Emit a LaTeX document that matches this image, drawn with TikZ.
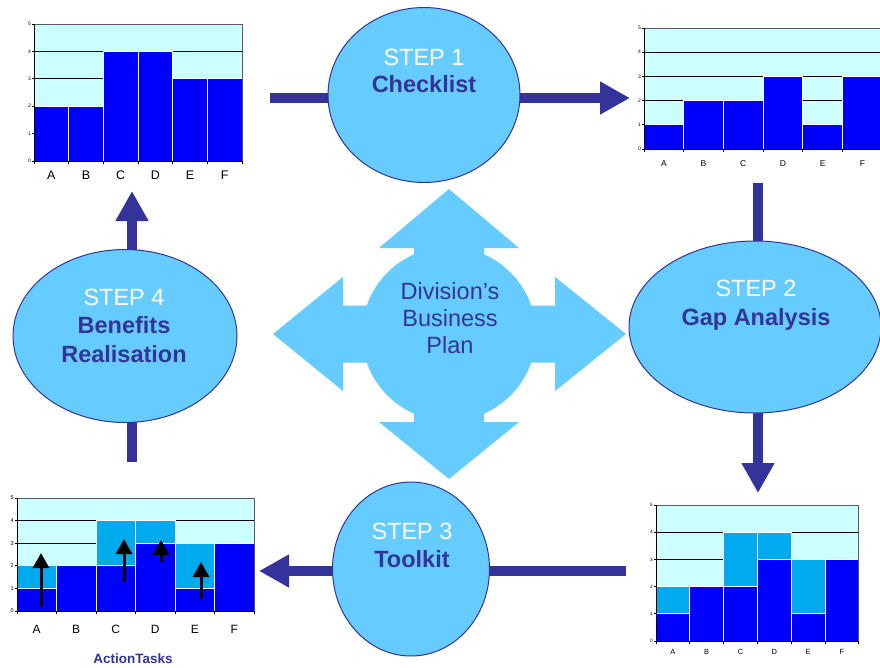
\documentclass[tikz,border=0pt]{standalone}
\usepackage{fontspec}
\setmainfont{Liberation Sans}
\usetikzlibrary{arrows.meta,shapes.geometric}
\definecolor{navy}{HTML}{333399}
\definecolor{skyfill}{HTML}{66CCFF}
\definecolor{chartbg}{HTML}{CCFFFF}
\definecolor{barblue}{HTML}{0000FF}
\definecolor{barlight}{HTML}{00AAEE}
\tikzset{
  gridline/.style={black,line width=0.9pt},
  frameline/.style={gray!70!black,line width=0.8pt},
  axisline/.style={black,line width=0.9pt},
  barstyle/.style={fill=barblue,draw=white,line width=1pt},
  lightbarstyle/.style={fill=barlight,draw=white,line width=1pt},
  stepell/.style={ellipse,draw=navy,line width=1pt,fill=skyfill,inner sep=0pt},
  steplabel/.style={text=white,font=\fontsize{23.5}{27}\selectfont,anchor=base,inner sep=0pt},
  steptitle/.style={text=navy,font=\fontsize{23.5}{27}\selectfont\bfseries,anchor=base,inner sep=0pt},
  hubtext/.style={text=navy,font=\fontsize{23.5}{27}\selectfont,anchor=base,inner sep=0pt},
  flowline/.style={navy,line width=10pt},
  flowarrow/.style={navy,line width=10pt,-{Triangle[length=30pt,width=31pt]}},
  risearrow/.style={black,line width=3pt,-{Triangle[length=15pt,width=16pt]}},
}
\newcommand\chartback[4]{%
  \fill[chartbg] (#1,#2) rectangle (#1+6*#3,#2-5*#4);
  \foreach \k in {1,2,3,4}{\draw[gridline] (#1,#2-\k*#4) -- (#1+6*#3,#2-\k*#4);}
}
\newcommand\chartbars[5]{%
  \foreach \i/\v in {#5}{\draw[barstyle] (#1+\i*#3,#2) rectangle (#1+\i*#3+#3,#2-\v*#4);}
}
\newcommand\chartlight[5]{%
  \foreach \i/\a/\b in {#5}{\draw[lightbarstyle] (#1+\i*#3,#2-\a*#4) rectangle (#1+\i*#3+#3,#2-\b*#4);}
}
\newcommand\chartfront[8]{%
  \draw[frameline] (#1,#2-5*#4) -- (#1+6*#3,#2-5*#4) -- (#1+6*#3,#2);
  \draw[axisline] (#1,#2-5*#4) -- (#1,#2) -- (#1+6*#3,#2);
  \foreach \k in {0,...,5}{%
    \draw[axisline] (#1,#2-\k*#4) -- ++(-2,0);
    \node[font=\fontsize{#6}{#6}\selectfont,anchor=east,inner sep=0pt] (#8y\k) at (#1-3,#2-\k*#4) {\k};}
  \foreach \i in {0,...,6}{\draw[axisline] (#1+\i*#3,#2) -- ++(0,3);}
  \foreach \i/\c in {0/A,1/B,2/C,3/D,4/E,5/F}{%
    \node[font=\fontsize{#5}{#5}\selectfont,inner sep=0pt] (#8x\i) at (#1+\i*#3+0.5*#3,#2+#7) {\c};}
}
\begin{document}
\begin{tikzpicture}[x=1pt,y=-1pt]
\useasboundingbox[fill=white] (0,0) rectangle (880,667);

% ---- charts ----
% chart 1 (top left)
\chartback{34}{161}{34.67}{27.4}
\chartbars{34}{161}{34.67}{27.4}{0/2,1/2,2/4,3/4,4/3,5/3}
\chartfront{34}{161}{34.67}{27.4}{12.5}{5}{14.5}{ca}
% chart 2 (top right)
\chartback{644}{149}{39.7}{24.2}
\chartbars{644}{149}{39.7}{24.2}{0/1,1/2,2/2,3/3,4/1,5/3}
\chartfront{644}{149}{39.7}{24.2}{8.5}{5}{15}{cb}
% chart 3 (bottom left)
\chartback{17}{611}{39.5}{22.6}
\chartbars{17}{611}{39.5}{22.6}{0/1,1/2,2/2,3/3,4/1,5/3}
\chartlight{17}{611}{39.5}{22.6}{0/1/2,2/2/4,3/3/4,4/1/3}
\chartfront{17}{611}{39.5}{22.6}{12}{5.5}{18}{cc}
% chart 4 (bottom right)
\chartback{656}{641}{33.8}{27.2}
\chartbars{656}{641}{33.8}{27.2}{0/1,1/2,2/2,3/3,4/1,5/3}
\chartlight{656}{641}{33.8}{27.2}{0/1/2,2/2/4,3/3/4,4/1/3}
\chartfront{656}{641}{33.8}{27.2}{7.5}{4.7}{11}{cd}

% rise arrows in chart 3
\coordinate (ra0) at (41,607); \coordinate (ra1) at (41,553);
\coordinate (rc0) at (124,582); \coordinate (rc1) at (124,539);
\coordinate (rd0) at (161,562); \coordinate (rd1) at (161,540);
\coordinate (re0) at (201,599); \coordinate (re1) at (201,562);
\draw[risearrow] (ra0) -- (ra1);
\draw[risearrow] (rc0) -- (rc1);
\draw[risearrow] (rd0) -- (rd1);
\draw[risearrow] (re0) -- (re1);
\node[text=navy,font=\fontsize{13.5}{15}\selectfont\bfseries,anchor=base,inner sep=0pt] (actiontasks) at (133,663.5) {ActionTasks};

% ---- central hub ----
\fill[skyfill]
  (414,262) -- (414,248) -- (379,248) -- (449,189) -- (519,248) -- (484,248) -- (484,262) -- cycle
  (414,406) -- (414,422) -- (379,422) -- (449,479) -- (519,422) -- (484,422) -- (484,406) -- cycle
  (372,305.5) -- (343,305.5) -- (343,277) -- (273,334) -- (343,391) -- (343,362.5) -- (372,362.5) -- cycle
  (526,305.5) -- (555,305.5) -- (555,277) -- (626,334) -- (555,391) -- (555,362.5) -- (526,362.5) -- cycle;
\node[circle,fill=skyfill,minimum size=174pt,inner sep=0pt] (hub) at (449,334) {};
\node[hubtext] (hubA) at (450,299.5) {Division’s};
\node[hubtext] (hubB) at (450,326.5) {Business};
\node[hubtext] (hubC) at (450,353.5) {Plan};

% ---- step ellipses (positions) ----
\coordinate (s1c) at (424,95);
\coordinate (s2c) at (755,327);
\coordinate (s3c) at (411,569);
\coordinate (s4c) at (125,336);

% ---- flow arrows (drawn beneath ellipses) ----
\coordinate (f1a) at (270,98);
\coordinate (f1b) at (630,98);
\coordinate (f2a) at (758,183);
\coordinate (f2b) at (758,493);
\coordinate (f3a) at (626,571);
\coordinate (f3b) at (259,571);
\coordinate (f4a) at (132,462);
\coordinate (f4b) at (132,191);
\draw[flowline] (f1a) -- (f1a -| s1c);
\draw[flowarrow] (f1b -| s1c) -- (f1b);
\draw[flowline] (f2a) -- (f2a |- s2c);
\draw[flowarrow] (f2b |- s2c) -- (f2b);
\draw[flowline] (f3a) -- (f3a -| s3c);
\draw[flowarrow] (f3b -| s3c) -- (f3b);
\draw[flowline] (f4a) -- (f4a |- s4c);
\draw[flowarrow] (f4b |- s4c) -- (f4b);

\node[stepell,minimum width=192pt,minimum height=175pt] (s1) at (s1c) {};
\node[stepell,minimum width=252pt,minimum height=172pt] (s2) at (s2c) {};
\node[stepell,minimum width=157pt,minimum height=174pt] (s3) at (s3c) {};
\node[stepell,minimum width=224pt,minimum height=173pt] (s4) at (s4c) {};

\node[steplabel] (s1a) at (424,65) {STEP 1};
\node[steptitle] (s1b) at (424,92) {Checklist};
\node[steplabel] (s2a) at (756,296) {STEP 2};
\node[steptitle] (s2b) at (756,325) {Gap Analysis};
\node[steplabel] (s3a) at (412,539) {STEP 3};
\node[steptitle] (s3b) at (412,567) {Toolkit};
\node[steplabel] (s4a) at (124,305) {STEP 4};
\node[steptitle] (s4b) at (124,333) {Benefits};
\node[steptitle] (s4r) at (124,362) {Realisation};
\end{tikzpicture}
\end{document}
